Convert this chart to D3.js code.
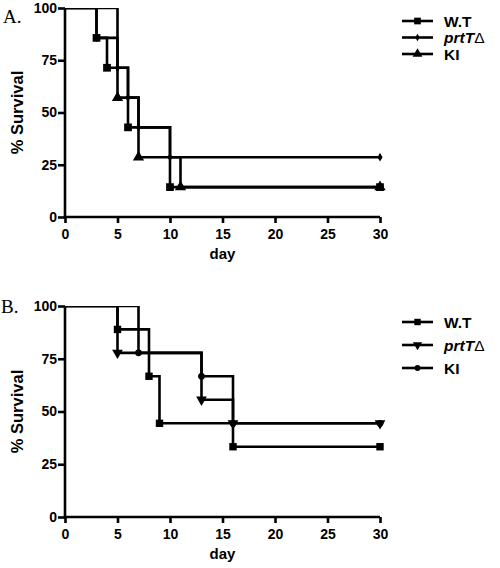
<!DOCTYPE html>
<html><head><meta charset="utf-8">
<script src="https://cdn.jsdelivr.net/npm/d3@7"></script>
<style>body{margin:0;background:#fff}svg{display:block}</style>
</head><body>
<script>
// Panel A data (day, % survival)
const seriesNames = ["W.T", "prtT", "KI"];
const daysA_WT = [0, 3, 4, 6, 10, 30];
const survA_WT = [100, 85.7, 71.4, 42.9, 14.3, 14.3];
const daysA_prtT = [0, 3, 5, 6, 7, 10, 30];
const survA_prtT = [100, 85.7, 71.4, 57.1, 42.9, 28.6, 28.6];
const daysA_KI = [0, 5, 7, 11, 30];
const survA_KI = [100, 57.1, 28.6, 14.3, 14.3];
// Panel B data
const daysB_WT = [0, 5, 8, 9, 16, 30];
const survB_WT = [100, 88.9, 66.7, 44.4, 33.3, 33.3];
const daysB_prtT = [0, 5, 13, 16, 30];
const survB_prtT = [100, 77.8, 55.6, 44.4, 44.4];
const daysB_KI = [0, 7, 13, 16, 30];
const survB_KI = [100, 77.8, 66.7, 44.4, 44.4];
const xTicks = [0, 5, 10, 15, 20, 25, 30];
const yTicks = [0, 25, 50, 75, 100];

const W = 500, H = 568;
const svg = d3.select("body").append("svg").attr("width", W).attr("height", H);
const FONT = "'Liberation Sans', Arial, sans-serif";

function sym(type, size) { return d3.symbol().type(type).size(size)(); }
const triDown = { draw(ctx, size) { const s = Math.sqrt(size / (Math.sqrt(3) / 4)); const h = s * Math.sqrt(3) / 2;
  ctx.moveTo(-s/2, -h/3); ctx.lineTo(s/2, -h/3); ctx.lineTo(0, 2*h/3); ctx.closePath(); } };

function panel(cfg) {
  const g = svg.append("g");
  const x = d3.scaleLinear().domain([0, 30]).range([65, 380]);
  const y = d3.scaleLinear().domain([0, 100]).range([cfg.y0, cfg.y100]);
  const id = "clip" + cfg.label[0];
  svg.append("defs").append("clipPath").attr("id", id).append("rect")
    .attr("x", 0).attr("y", cfg.y100).attr("width", W).attr("height", cfg.y0 - cfg.y100 + 20);

  const yAx = g.append("g").attr("transform", `translate(${x(0)},0)`)
    .call(d3.axisLeft(y).tickValues(yTicks).tickSize(7).tickSizeOuter(0).tickPadding(1));
  const xAx = g.append("g").attr("transform", `translate(0,${y(0)})`)
    .call(d3.axisBottom(x).tickValues(xTicks).tickSize(6).tickSizeOuter(0).tickPadding(6));
  [yAx, xAx].forEach(a => {
    a.select(".domain").attr("stroke-width", 2.6).attr("stroke", "#000");
    a.selectAll(".tick line").attr("stroke-width", 2.6).attr("stroke", "#000");
    a.selectAll(".tick text").attr("font-family", FONT).attr("font-weight", "bold")
      .attr("font-size", 14).attr("fill", "#000");
  });
  yAx.select(".domain").attr("d", `M0,${y(0)+1.3}V${y(100)}`);
  xAx.select(".domain").attr("d", `M${x(0)-1.3},0H${x(30)}`);

  g.append("text").attr("transform", `translate(23,${(cfg.y0 + cfg.y100) / 2}) rotate(-90)`)
    .attr("text-anchor", "middle").attr("font-family", FONT).attr("font-weight", "bold")
    .attr("font-size", 16.5).text("% Survival");
  g.append("text").attr("x", x(15)).attr("y", cfg.y0 + 42).attr("text-anchor", "middle")
    .attr("font-family", FONT).attr("font-weight", "bold").attr("font-size", 15).text("day");
  g.append("text").attr("x", cfg.labelX).attr("y", cfg.labelY).attr("font-family", "'Liberation Serif', 'Times New Roman', serif")
    .attr("font-size", 19).text(cfg.label);

  const line = d3.line().x(d => x(d[0])).y(d => y(d[1])).curve(d3.curveStepAfter);
  cfg.series.forEach(s => {
    const pts = s.days.map((d, i) => [d, s.surv[i]]);
    g.append("path").attr("d", line(pts)).attr("fill", "none").attr("stroke", "#000")
      .attr("stroke-width", 2.6).attr("clip-path", `url(#${id})`);
    g.selectAll(null).data(pts.slice(1)).join("path")
      .attr("transform", d => `translate(${x(d[0])},${y(d[1])})`)
      .attr("d", sym(s.shape, s.size)).attr("fill", "#000");
  });

  // legend
  const lg = g.append("g");
  cfg.series.slice().sort((a, b) => a.order - b.order).forEach((s, i) => {
    const yy = cfg.legY + i * cfg.legStep;
    lg.append("line").attr("x1", 402).attr("x2", 433).attr("y1", yy).attr("y2", yy)
      .attr("stroke", "#000").attr("stroke-width", 2.6);
    lg.append("path").attr("transform", `translate(417.5,${yy})`).attr("d", sym(s.shape, s.size * 0.75)).attr("fill", "#000");
    const t = lg.append("text").attr("x", 444).attr("y", yy + 5.5).attr("font-family", FONT)
      .attr("font-weight", "bold").attr("font-size", 15.5);
    if (s.name === "prtT") {
      t.append("tspan").attr("font-style", "italic").text("prtT");
      t.append("tspan").attr("font-weight", "normal").text("Δ");
    } else t.text(s.name);
  });
}

panel({
  label: "A.", labelX: 3, labelY: 23, y0: 217, y100: 8, legY: 21, legStep: 16.5,
  series: [
    { name: seriesNames[2], order: 2, days: daysA_KI, surv: survA_KI, shape: d3.symbolTriangle, size: 55 },
    { name: seriesNames[1], order: 1, days: daysA_prtT, surv: survA_prtT, shape: d3.symbolDiamond, size: 22 },
    { name: seriesNames[0], order: 0, days: daysA_WT, surv: survA_WT, shape: d3.symbolSquare, size: 60 }
  ]
});
panel({
  label: "B.", labelX: 1, labelY: 313, y0: 517, y100: 306, legY: 322, legStep: 23,
  series: [
    { name: seriesNames[2], order: 2, days: daysB_KI, surv: survB_KI, shape: d3.symbolCircle, size: 36 },
    { name: seriesNames[1], order: 1, days: daysB_prtT, surv: survB_prtT, shape: triDown, size: 50 },
    { name: seriesNames[0], order: 0, days: daysB_WT, surv: survB_WT, shape: d3.symbolSquare, size: 55 }
  ]
});
</script>
</body></html>
